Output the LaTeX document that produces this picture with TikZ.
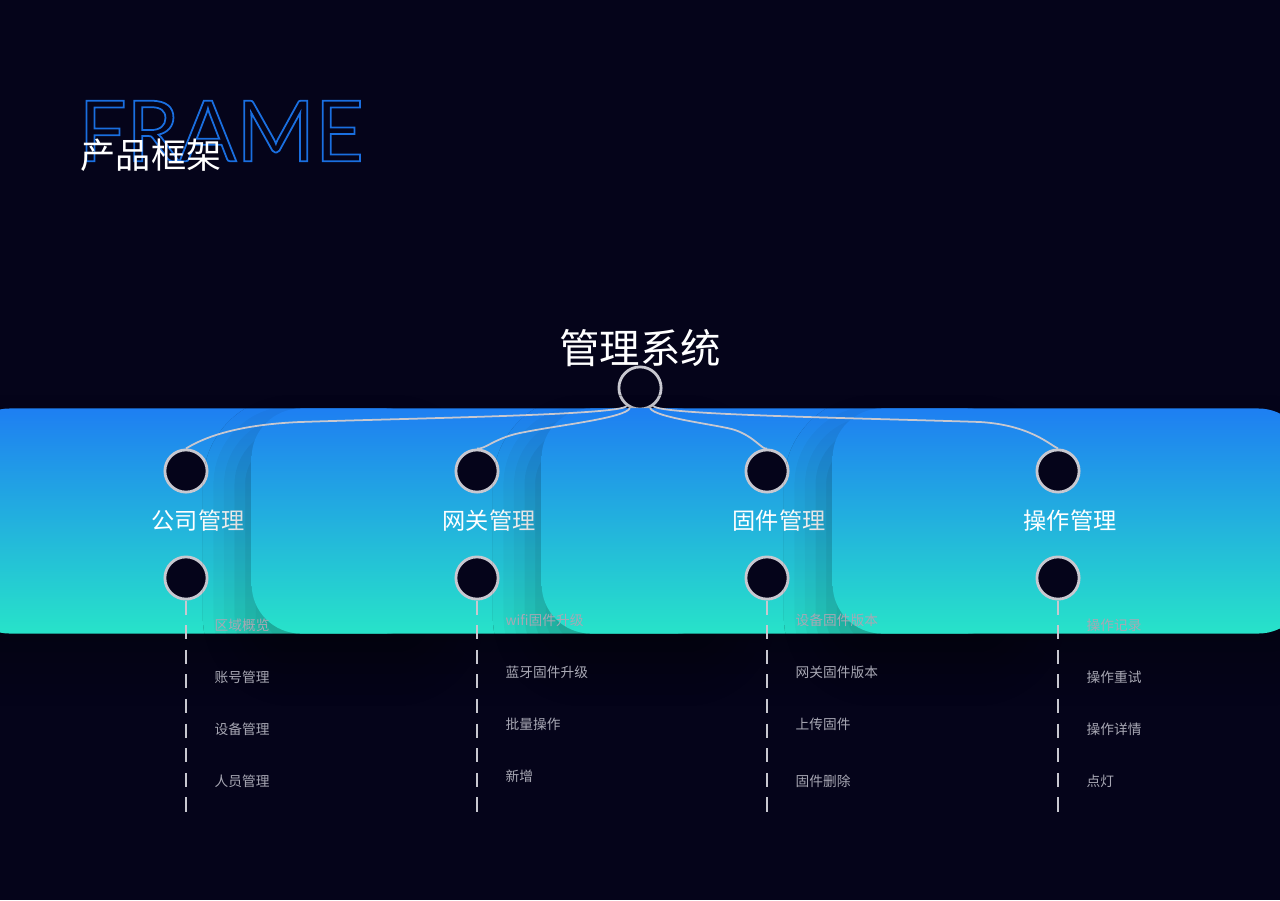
\documentclass[tikz,border=0pt]{standalone}
\usepackage{fontspec}
\newfontfamily\cjk{Noto Sans CJK SC}
\newfontfamily\latin{Lato}
\usetikzlibrary{positioning, shadows.blur}
\definecolor{bgnavy}{HTML}{05041A}
\definecolor{frameblue}{HTML}{1A6FE0}
\definecolor{topblue}{HTML}{1E7FF2}
\definecolor{botcyan}{HTML}{27E3C9}
\definecolor{itemgray}{HTML}{A8A8B4}
\definecolor{linegray}{HTML}{C8C8D0}

\begin{document}
\begin{tikzpicture}[x=0.01cm, y=-0.01cm,
  modbox/.style={rectangle, rounded corners=14pt, top color=topblue, bottom color=botcyan, draw=none, minimum width=135, minimum height=64, text=white, font=\cjk\fontsize{6.6}{7}\selectfont, blur shadow={shadow xshift=0pt, shadow yshift=-8pt, shadow blur radius=10pt, shadow opacity=25, shadow scale=1.05}},
  dot/.style={circle, draw=linegray, line width=0.8pt, fill=bgnavy, minimum size=12, inner sep=0pt},
  item/.style={anchor=west, text=itemgray, font=\cjk\fontsize{3.9}{4.5}\selectfont, inner sep=0pt},
  link/.style={draw=linegray, line width=0.5pt},
  trail/.style={draw=linegray, line width=0.5pt, dash pattern=on 4pt off 3pt}
]
  \fill[bgnavy] (0,0) rectangle (1280,900);
  \useasboundingbox (0,0) rectangle (1280,900);

  % Title
  \node[anchor=west, inner sep=0pt, text=frameblue, font=\latin\fontsize{24}{24}\selectfont] (frame) at (78,131)
    {\special{pdf:code 1 Tr 0.5 w}FRAME\special{pdf:code 0 Tr}};
  \node[anchor=west, inner sep=0pt, text=white, font=\cjk\fontsize{10}{10}\selectfont] (title) at (80,155) {产品框架};

  % Root
  \node[text=white, font=\cjk\fontsize{11.5}{12}\selectfont] (root) at (640,348) {管理系统};
  \node[dot] (r) at (640,388) {};

  % Modules
  \foreach \n/\x/\t in {a/198/公司管理, b/489/网关管理, c/779/固件管理, d/1070/操作管理}{
    \node[modbox] (\n) at (\x,521) {\t};
    \node[dot] (\n-top) at (\x-12,471) {};
    \node[dot] (\n-bot) at (\x-12,578) {};
    \coordinate (\n-end) at (\x-12,818);
    \draw[trail] (\n-bot) -- (\n-end);
  }

  % Links
  \draw[link] (r) .. controls (620,415) and (420,418) .. (300,422) .. controls (230,425) and (200,440) .. (a-top.north);
  \draw[link] (r) .. controls (625,418) and (560,425) .. (525,432) .. controls (495,437) and (485,450) .. (b-top.north);
  \draw[link] (r) .. controls (655,418) and (720,425) .. (735,430) .. controls (755,437) and (762,450) .. (c-top.north);
  \draw[link] (r) .. controls (660,415) and (860,418) .. (980,422) .. controls (1030,425) and (1050,445) .. (d-top.north);

  % Items
  \node[item] (a1) at (214,625) {区域概览};
  \node[item] (a2) at (214,677) {账号管理};
  \node[item] (a3) at (214,729) {设备管理};
  \node[item] (a4) at (214,781) {人员管理};
  \node[item] (b1) at (505,620) {wifi固件升级};
  \node[item] (b2) at (505,672) {蓝牙固件升级};
  \node[item] (b3) at (505,724) {批量操作};
  \node[item] (b4) at (505,776) {新增};
  \node[item] (c1) at (795,620) {设备固件版本};
  \node[item] (c2) at (795,672) {网关固件版本};
  \node[item] (c3) at (795,724) {上传固件};
  \node[item] (c4) at (795,781) {固件删除};
  \node[item] (d1) at (1086,625) {操作记录};
  \node[item] (d2) at (1086,677) {操作重试};
  \node[item] (d3) at (1086,729) {操作详情};
  \node[item] (d4) at (1086,781) {点灯};
\end{tikzpicture}
\end{document}
